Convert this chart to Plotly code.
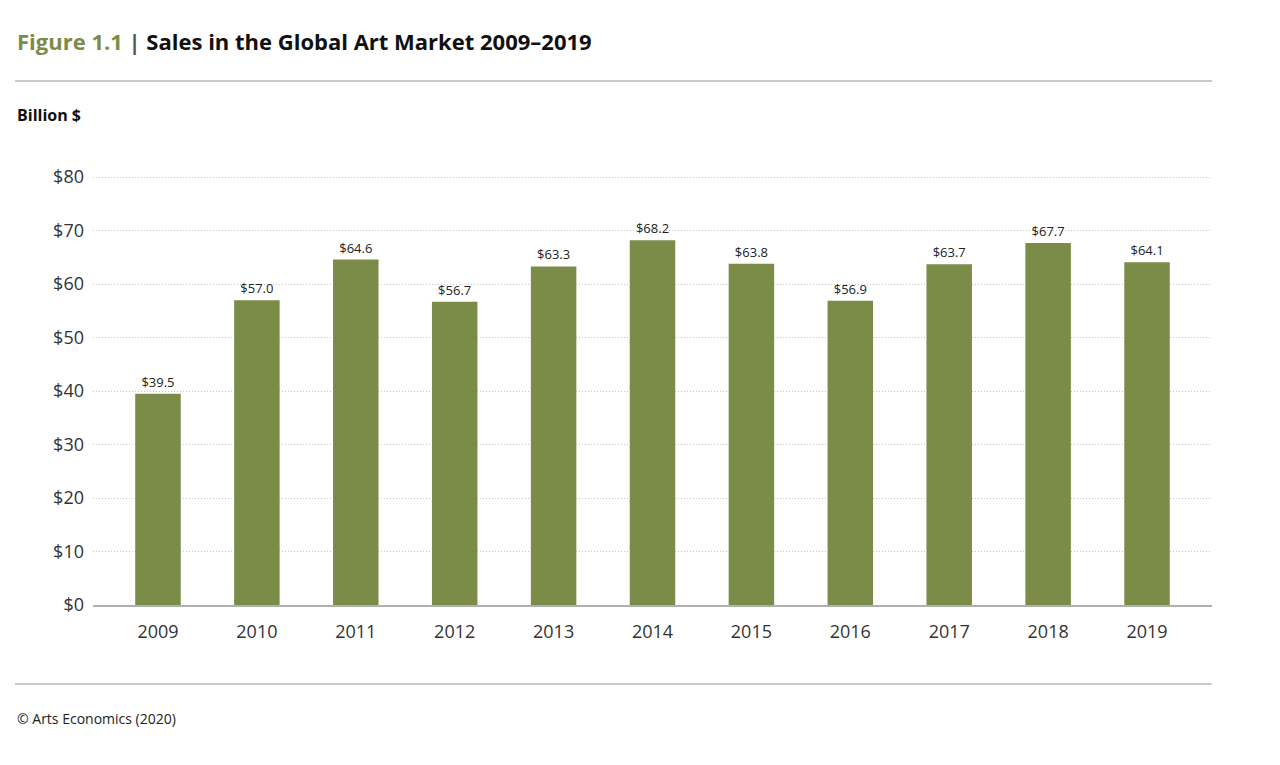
"""Sales in the Global Art Market 2009-2019 (bar chart)."""
import plotly.graph_objects as go

years = ["2009", "2010", "2011", "2012", "2013", "2014",
         "2015", "2016", "2017", "2018", "2019"]
sales = [39.5, 57.0, 64.6, 56.7, 63.3, 68.2, 63.8, 56.9, 63.7, 67.7, 64.1]
y_ticks = [0, 10, 20, 30, 40, 50, 60, 70, 80]

GREEN = "#7b8b48"
FONT = "Open Sans"

# page has an 8px body margin; plot area on screen x 93..1212, y 175..605
PLOT_W = 1119
PLOT_H = 430
LEFT = -78  # text/rule start, px relative to plot left

fig = go.Figure()
fig.add_trace(
    go.Bar(
        x=years,
        y=sales,
        marker=dict(color=GREEN, line=dict(width=0)),
        width=0.46,
        text=[f"${v:.1f}" for v in sales],
        textposition="outside",
        textfont=dict(family=FONT, size=13, color="#222222"),
        cliponaxis=False,
        showlegend=False,
    )
)

fig.update_layout(
    width=1264,
    height=749,
    margin=dict(l=85, r=60, t=167, b=152),
    paper_bgcolor="white",
    plot_bgcolor="white",
    font=dict(family=FONT, color="#222222"),
    xaxis=dict(
        range=[-0.657, 10.657],
        showgrid=False,
        showline=True,
        linecolor="#b0b0b0",
        linewidth=1.5,
        ticks="",
        tickfont=dict(family=FONT, size=18, color="#333333"),
        ticklabelstandoff=10,
    ),
    yaxis=dict(
        range=[0, 80.4],
        tickvals=y_ticks,
        ticktext=[f"${v}" for v in y_ticks],
        showgrid=True,
        gridcolor="#c6c6c6",
        griddash="1px,2px",
        gridwidth=1,
        zeroline=False,
        ticks="",
        tickfont=dict(family=FONT, size=18, color="#333333"),
        ticklabelstandoff=8,
    ),
    annotations=[
        dict(
            text=f"<b><span style='color:{GREEN}'>Figure 1.1</span>"
                 "<span style='color:#555555'> | </span>"
                 "Sales in the Global Art Market 2009–2019</b>",
            xref="paper", yref="paper", x=0, y=1,
            xanchor="left", yanchor="middle",
            xshift=LEFT, yshift=134,
            showarrow=False,
            font=dict(family=FONT, size=22, color="#111111"),
        ),
        dict(
            text="<b>Billion $</b>",
            xref="paper", yref="paper", x=0, y=1,
            xanchor="left", yanchor="middle",
            xshift=LEFT, yshift=60,
            showarrow=False,
            font=dict(family=FONT, size=16, color="#111111"),
        ),
        dict(
            text="© Arts Economics (2020)",
            xref="paper", yref="paper", x=0, y=0,
            xanchor="left", yanchor="middle",
            xshift=LEFT, yshift=-113,
            showarrow=False,
            font=dict(family=FONT, size=14, color="#222222"),
        ),
    ],
)

# horizontal rules above the chart and above the source note
for y_px in (81, 684):
    y_paper = (605 - y_px) / PLOT_H
    fig.add_shape(
        type="line", xref="paper", yref="paper",
        x0=LEFT / PLOT_W, x1=1, y0=y_paper, y1=y_paper,
        line=dict(color="#b8b8b8", width=1.5),
    )

fig.write_html("out.html")
